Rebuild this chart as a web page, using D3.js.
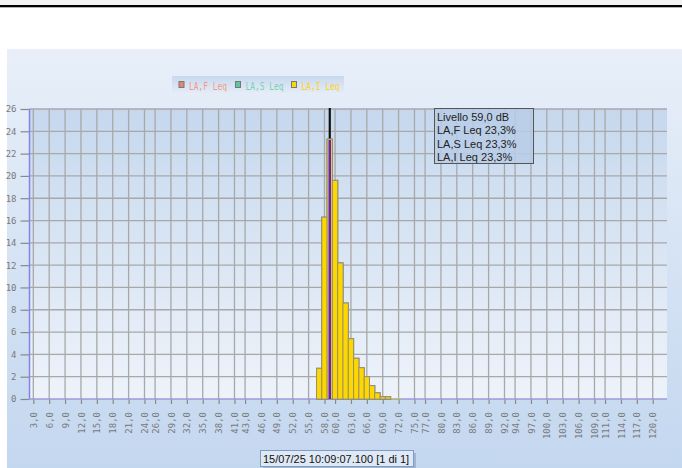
<!DOCTYPE html>
<html><head><meta charset="utf-8">
<script src="https://cdn.jsdelivr.net/npm/d3@7"></script>
<style>
html,body{margin:0;padding:0;background:#fff;}
svg{display:block;}
</style></head>
<body>
<script>
// ---- data ----
const levels = [57,58,59,60,61,62,63,64,65,66,67,68,69,70,71,72];
const valuesLAF = [2.75,16.3,23.3,19.6,12.2,8.6,5.4,3.65,2.8,2.0,1.2,0.55,0.2,0.2,0.05,0.05];
const valuesLAS = [2.75,16.3,23.3,19.6,12.2,8.6,5.4,3.65,2.8,2.0,1.2,0.55,0.2,0.2,0.05,0.05];
const valuesLAI = [2.75,16.3,23.3,19.6,12.2,8.6,5.4,3.65,2.8,2.0,1.2,0.55,0.2,0.2,0.05,0.05];
const seriesNames = ["LA,F Leq","LA,S Leq","LA,I Leq"];
const xTickValues = [3,6,9,12,15,18,21,24,26,29,32,35,38,41,43,46,49,52,55,58,60,63,66,69,72,75,77,80,83,86,89,92,94,97,100,103,106,109,111,114,117,120];
const yTickValues = [0,2,4,6,8,10,12,14,16,18,20,22,24,26];
const cursorLevel = 59;
const tooltipLines = ["Livello 59,0 dB","LA,F Leq 23,3%","LA,S Leq 23,3%","LA,I Leq 23,3%"];
const footerText = "15/07/25 10:09:07.100 [1 di 1]";

const W = 682, H = 468;
const svg = d3.select("body").append("svg").attr("width", W).attr("height", H);
const defs = svg.append("defs");

function grad(id, stops){
  const g = defs.append("linearGradient").attr("id", id).attr("x1",0).attr("y1",0).attr("x2",0).attr("y2",1);
  stops.forEach(s => g.append("stop").attr("offset", s[0]).attr("stop-color", s[1]));
}
grad("panelG", [[0,"#e8eff9"],[1,"#c3d7ef"]]);
grad("plotG", [[0,"#c6d8ee"],[1,"#eef3fa"]]);
grad("legG", [[0,"#c8d8ee"],[1,"#e4ecf7"]]);

// top strip
svg.append("rect").attr("x",0).attr("y",0).attr("width",W).attr("height",5).attr("fill","#f2f2f2");
svg.append("rect").attr("x",0).attr("y",5).attr("width",W).attr("height",2.3).attr("fill","#000");

// panel
svg.append("rect").attr("x",7).attr("y",49).attr("width",W-7).attr("height",H-49).attr("fill","url(#panelG)");

const plot = {l:29.5, r:667, t:109, b:399};
const x = d3.scaleLinear().domain([2.28, 122.7]).range([plot.l, plot.r]);
const y = d3.scaleLinear().domain([0, 26]).range([plot.b, plot.t]);

svg.append("rect").attr("x",plot.l).attr("y",plot.t).attr("width",plot.r-plot.l).attr("height",plot.b-plot.t).attr("fill","url(#plotG)");

// grid
svg.append("g").selectAll("line").data(yTickValues.filter(v=>v>0)).join("line")
  .attr("x1",plot.l).attr("x2",plot.r).attr("y1",d=>y(d)).attr("y2",d=>y(d))
  .attr("stroke","#a8a8a8").attr("stroke-width",1.3);
svg.append("g").selectAll("line").data(xTickValues).join("line")
  .attr("x1",d=>x(d)).attr("x2",d=>x(d)).attr("y1",plot.t).attr("y2",plot.b)
  .attr("stroke","#a8a8a8").attr("stroke-width",1.3);

// axes
const fmt = v => v.toFixed(1).replace(".", ",");
const xAxis = svg.append("g").attr("transform",`translate(0,${plot.b})`)
  .call(d3.axisBottom(x).tickValues(xTickValues).tickFormat(fmt).tickSize(5).tickPadding(4));
xAxis.select(".domain").remove();
xAxis.selectAll(".tick line").attr("stroke","#888").attr("stroke-width",1.2);
xAxis.selectAll(".tick text")
  .attr("transform","rotate(-90)").attr("text-anchor","end")
  .attr("x",-13).attr("y",0).attr("dy","0.35em")
  .attr("fill","#7a7a7a").style("font-family","'DejaVu Sans Mono'").style("font-size","9px");

const yAxis = svg.append("g").attr("transform",`translate(${plot.l},0)`)
  .call(d3.axisLeft(y).tickValues(yTickValues).tickFormat(d3.format("d")).tickSize(9).tickPadding(4));
yAxis.select(".domain").remove();
yAxis.selectAll(".tick line").attr("stroke","#888").attr("stroke-width",1.2);
yAxis.selectAll(".tick text").attr("fill","#7a7a7a").style("font-family","'DejaVu Sans Mono'").style("font-size","9px");

svg.append("line").attr("x1",plot.l).attr("x2",plot.l).attr("y1",plot.t).attr("y2",plot.b).attr("stroke","#8484e6").attr("stroke-width",1.5);
svg.append("line").attr("x1",plot.l).attr("x2",plot.r).attr("y1",plot.b).attr("y2",plot.b).attr("stroke","#9a9ade").attr("stroke-width",1.5);

// cursor line (black)
svg.append("line").attr("x1",x(cursorLevel)).attr("x2",x(cursorLevel)).attr("y1",plot.t-1).attr("y2",plot.b)
  .attr("stroke","#111").attr("stroke-width",2.2);

// bars
const colors = ["#e8846c","#5cc79f","#ffd700"];
const series = [valuesLAF, valuesLAS, valuesLAI];
series.forEach((vals, si) => {
  svg.append("g").selectAll("rect").data(levels.map((lv,i)=>({lv, v:vals[i]}))).join("rect")
    .attr("x", d => x(d.lv - 0.5))
    .attr("width", d => x(d.lv + 0.5) - x(d.lv - 0.5))
    .attr("y", d => y(d.v))
    .attr("height", d => y(0) - y(d.v))
    .attr("fill", colors[si])
    .attr("stroke", d => d.v < 0.1 ? "none" : "#8a8a7a")
    .attr("stroke-opacity", 0.8)
    .attr("stroke-width", 1);
});

// purple selection line inside bar
const ci = levels.indexOf(cursorLevel);
svg.append("line").attr("x1",x(cursorLevel)).attr("x2",x(cursorLevel))
  .attr("y1",y(valuesLAI[ci])+1).attr("y2",plot.b)
  .attr("stroke","#5a1ee6").attr("stroke-width",2.5);

// legend
const leg = svg.append("g");
leg.append("rect").attr("x",172).attr("y",76).attr("width",172).attr("height",17).attr("fill","url(#legG)");
const legX = [179, 235.5, 291.5];
const legTextColors = ["#f09a88","#74d4b0","#ffd21a"];
seriesNames.forEach((n,i)=>{
  leg.append("rect").attr("x",legX[i]).attr("y",81.5).attr("width",5).attr("height",6)
    .attr("fill",colors[i]).attr("stroke","#777").attr("stroke-width",1);
  leg.append("text").attr("x",legX[i]+10).attr("y",89.5).text(n)
    .attr("textLength",38).attr("lengthAdjust","spacingAndGlyphs")
    .attr("fill",legTextColors[i]).style("font-family","'DejaVu Sans Mono'").style("font-size","11px");
});

// tooltip
const tt = svg.append("g");
tt.append("rect").attr("x",434.5).attr("y",108.5).attr("width",99).attr("height",55)
  .attr("fill","#b8cde8").attr("fill-opacity",0.85).attr("stroke","#555").attr("stroke-width",1);
tooltipLines.forEach((t,i)=>{
  tt.append("text").attr("x",437).attr("y",121 + i*13.3).text(t)
    .attr("fill","#222").style("font-family","'Liberation Sans'").style("font-size","11px");
});

// footer label
const ft = svg.append("g");
ft.append("rect").attr("x",263).attr("y",453).attr("width",153).attr("height",16).attr("fill","#9fb6d4");
ft.append("rect").attr("x",260.5).attr("y",450.5).attr("width",153).attr("height",16)
  .attr("fill","#dfe9f6").attr("stroke","#7f9cc4").attr("stroke-width",1);
ft.append("text").attr("x",263).attr("y",462.5).text(footerText)
  .attr("fill","#111").style("font-family","'Liberation Sans'").style("font-size","11px");
</script>
</body></html>
